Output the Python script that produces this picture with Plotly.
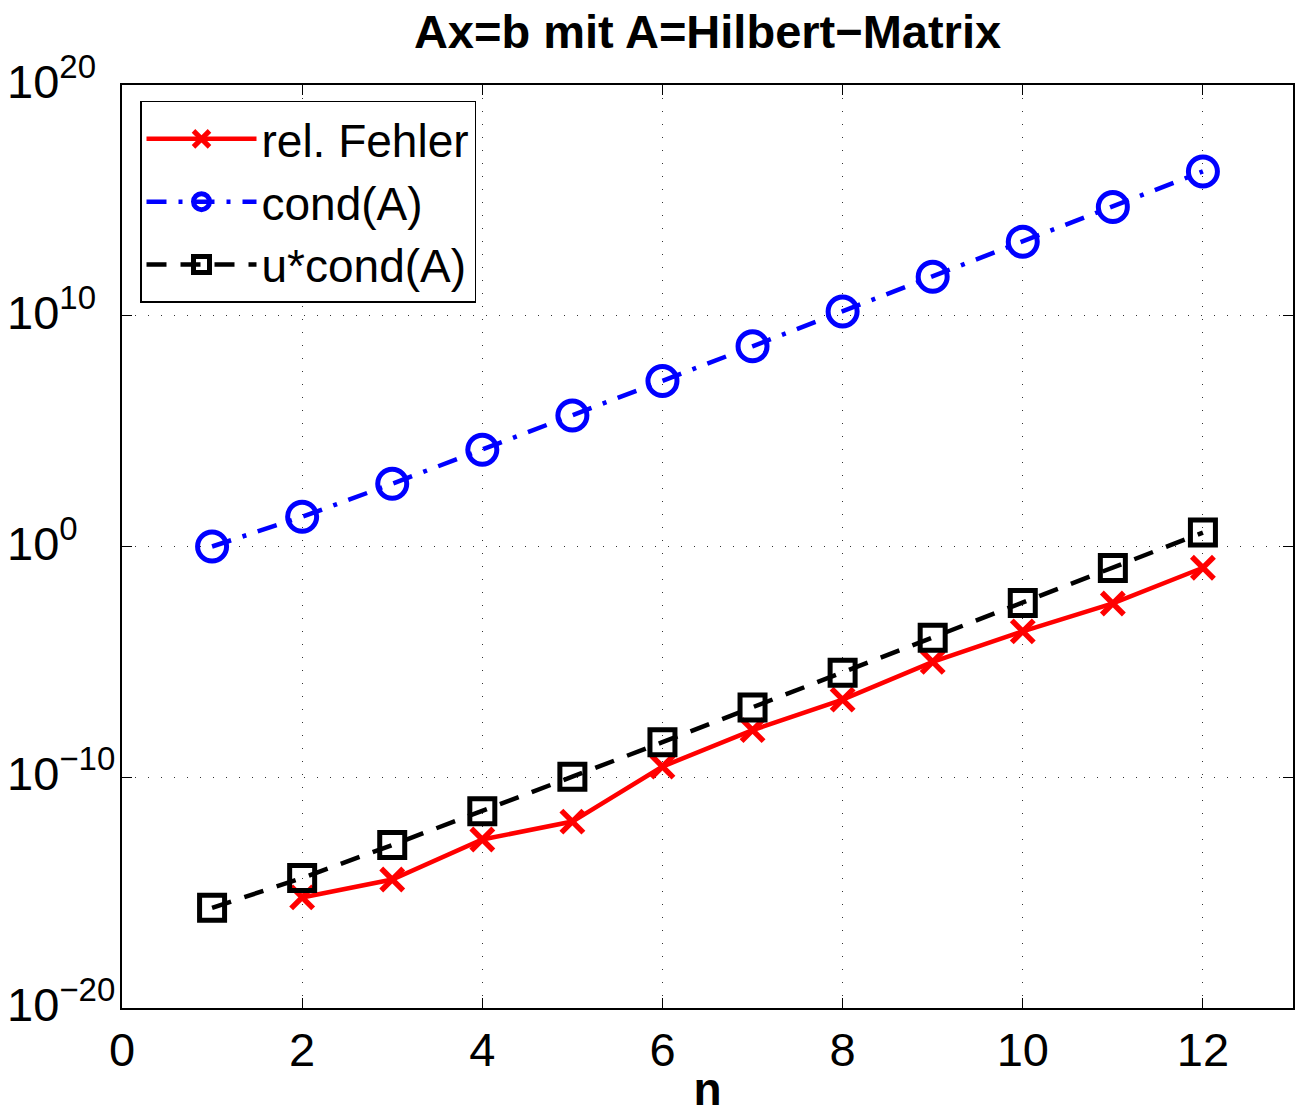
import plotly.graph_objects as go
import math

n = [1, 2, 3, 4, 5, 6, 7, 8, 9, 10, 11, 12]
n_err = [2, 3, 4, 5, 6, 7, 8, 9, 10, 11, 12]
rel_fehler = [6.2e-16, 3.7e-15, 2.0e-13, 1.2e-12, 2.9e-10, 1.1e-8, 2.3e-7, 1.0e-5, 2.1e-4, 3.4e-3, 0.12]
cond_A = [1.0, 19.3, 524.0, 1.55e4, 4.77e5, 1.50e7, 4.75e8, 1.53e10, 4.93e11, 1.60e13, 5.2e14, 1.8e16]
u_cond_A = [2.2e-16, 4.3e-15, 1.16e-13, 3.4e-12, 1.06e-10, 3.3e-9, 1.06e-7, 3.4e-6, 1.1e-4, 3.6e-3, 0.116, 4.0]

y_tickvals = [1e-20, 1e-10, 1e0, 1e10, 1e20]
y_exponents = ["\u221220", "\u221210", "0", "10", "20"]
x_tickvals = [0, 2, 4, 6, 8, 10, 12]

FONT = "Liberation Sans, Arial, Helvetica, sans-serif"
W, H = 1295, 1115
ML, MR, MT, MB = 122, 2, 85, 107

fig = go.Figure()
fig.add_trace(go.Scatter(
    x=n_err, y=rel_fehler, name="rel. Fehler", mode="lines+markers",
    line=dict(color="#ff0000", width=4.5),
    marker=dict(symbol="x-thin", size=22, color="#ff0000", line=dict(color="#ff0000", width=5.5)),
))
fig.add_trace(go.Scatter(
    x=n, y=cond_A, name="cond(A)", mode="lines+markers",
    line=dict(color="#0000ff", width=4.5, dash="20px,12px,4px,12px"),
    marker=dict(symbol="circle-open", size=29, color="#0000ff", line=dict(color="#0000ff", width=5)),
))
fig.add_trace(go.Scatter(
    x=n, y=u_cond_A, name="u*cond(A)", mode="lines+markers",
    line=dict(color="#000000", width=4.5, dash="20px,14px"),
    marker=dict(symbol="square-open", size=25, color="#000000", line=dict(color="#000000", width=5)),
))

# y tick labels, left-aligned like the original (base "10" + smaller exponent)
plot_w = W - ML - MR
annotations = []
for v, e in zip(y_tickvals, y_exponents):
    annotations.append(dict(
        x=-(ML - 5) / plot_w, xref="paper", xanchor="left",
        y=math.log10(v), yref="y", yanchor="middle", yshift=7,
        text="10<sup><span style='font-size:33px'>" + e + "</span></sup>",
        showarrow=False, font=dict(size=47, family=FONT, color="black"),
    ))

fig.update_layout(
    width=W, height=H,
    margin=dict(l=ML, r=MR, t=MT, b=MB, autoexpand=False),
    paper_bgcolor="white", plot_bgcolor="white",
    font=dict(family=FONT, size=47, color="black"),
    title=dict(text="<b>Ax=b mit A=Hilbert\u2212Matrix</b>", xref="paper", x=0.5, xanchor="center",
               y=1 - 32 / H, yanchor="middle", font=dict(size=47, family=FONT)),
    showlegend=True,
    legend=dict(x=(140 - ML) / plot_w, y=0.9827, xanchor="left", yanchor="top",
                bgcolor="white", bordercolor="black", borderwidth=1.5,
                font=dict(size=46, family=FONT), itemwidth=110, tracegroupgap=0),
    annotations=annotations,
)
fig.update_xaxes(
    range=[0, 13], tickvals=x_tickvals, ticks="inside", ticklen=10, tickwidth=1.2,
    tickcolor="black", showline=True, linecolor="black", linewidth=1.5, mirror="ticks",
    showgrid=True, gridcolor="#333333", gridwidth=1, griddash="1px,12px",
    zeroline=False, tickfont=dict(size=47), automargin=True,
    title=dict(text="<b>n</b>", font=dict(size=46), standoff=14),
)
fig.update_yaxes(
    type="log", range=[-20, 20], tickvals=y_tickvals, showticklabels=False,
    ticks="inside", ticklen=10, tickwidth=1.2, tickcolor="black",
    showline=True, linecolor="black", linewidth=1.5, mirror="ticks",
    showgrid=True, gridcolor="#333333", gridwidth=1, griddash="1px,12px",
    zeroline=False, automargin=False,
)

fig.write_html(
    "out.html",
    config={"displayModeBar": False},
    post_script="document.body.style.margin='0';document.body.style.overflow='hidden';",
)
